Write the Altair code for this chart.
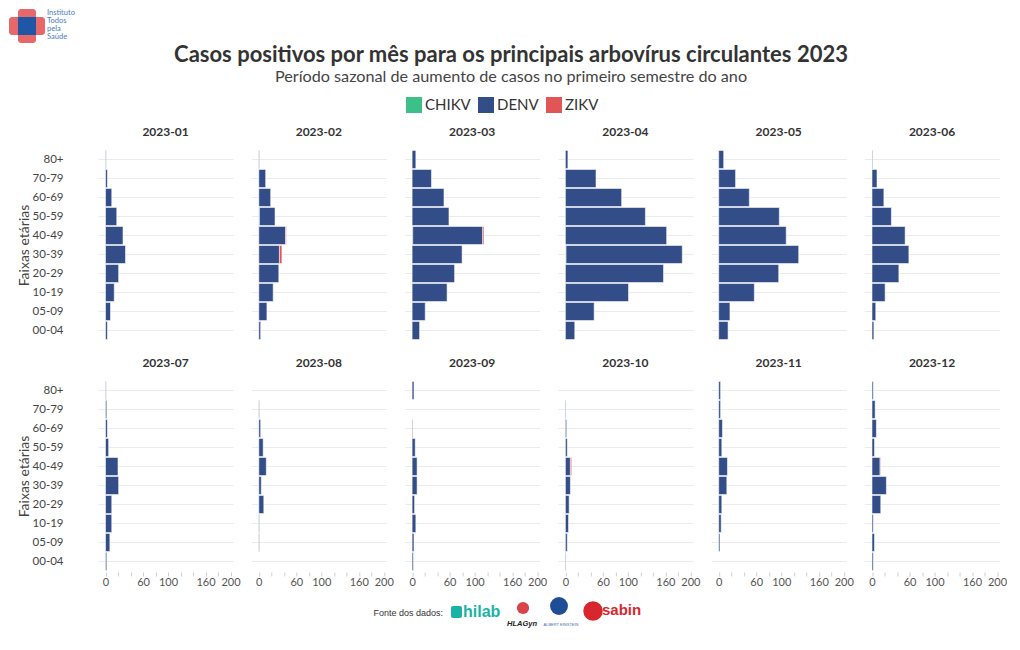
import altair as alt
import pandas as pd

# ---------------- data ----------------
months = ["2023-01", "2023-02", "2023-03", "2023-04", "2023-05", "2023-06",
          "2023-07", "2023-08", "2023-09", "2023-10", "2023-11", "2023-12"]
age_groups = ["00-04", "05-09", "10-19", "20-29", "30-39",
              "40-49", "50-59", "60-69", "70-79", "80+"]
viruses = ["CHIKV", "DENV", "ZIKV"]
virus_colors = ["#3DBF8A", "#324D88", "#E05555"]

# cases per month, per age group (00-04 ... 80+)
denv_cases = [
    [3, 8, 14, 21, 32, 28, 18, 10, 3, 1],          # 2023-01
    [3, 13, 23, 32, 33, 43, 25, 19, 11, 1],        # 2023-02
    [12, 21, 56, 68, 80, 112, 59, 51, 31, 6],      # 2023-03
    [15, 46, 101, 157, 186, 162, 128, 90, 49, 4],  # 2023-04
    [15, 18, 57, 96, 128, 108, 97, 49, 27, 8],     # 2023-05
    [3, 6, 21, 43, 59, 53, 31, 19, 8, 1],          # 2023-06
    [2, 7, 10, 10, 21, 20, 5, 3, 2, 1],            # 2023-07
    [0, 1, 1, 8, 4, 12, 7, 3, 1, 0],               # 2023-08
    [2, 3, 6, 4, 8, 8, 5, 1, 0, 3],                # 2023-09
    [1, 3, 5, 6, 8, 8, 3, 2, 1, 0],                # 2023-10
    [0, 2, 4, 5, 13, 14, 5, 6, 3, 3],              # 2023-11
    [2, 4, 2, 14, 23, 13, 4, 7, 5, 2],             # 2023-12
]
chikv_cases = [
    [0, 0, 0, 0, 0, 0, 0, 0, 0, 0],
    [0, 0, 0, 0, 0, 0, 1, 0, 0, 0],
    [0, 0, 0, 0, 0, 1, 0, 0, 0, 0],
    [0, 0, 0, 0, 1, 0, 0, 0, 0, 0],
    [0, 0, 0, 0, 0, 0, 0, 0, 0, 0],
    [0, 0, 0, 0, 0, 0, 0, 0, 0, 0],
    [0, 0, 0, 0, 0, 0, 0, 0, 0, 0],
    [0, 0, 0, 0, 0, 0, 0, 0, 0, 0],
    [0, 0, 0, 0, 0, 0, 0, 0, 0, 0],
    [0, 0, 0, 0, 0, 0, 0, 0, 0, 0],
    [0, 0, 0, 0, 0, 0, 0, 0, 0, 0],
    [0, 0, 0, 0, 0, 0, 0, 0, 0, 0],
]
zikv_cases = [
    [0, 0, 0, 0, 0, 0, 0, 0, 0, 0],
    [0, 0, 0, 0, 4, 1, 0, 0, 0, 0],
    [0, 0, 0, 0, 0, 2, 0, 0, 0, 0],
    [0, 0, 0, 0, 0, 0, 0, 0, 0, 0],
    [0, 0, 0, 0, 0, 0, 0, 0, 0, 0],
    [0, 0, 0, 0, 0, 0, 0, 0, 0, 0],
    [0, 0, 0, 0, 0, 0, 0, 0, 0, 0],
    [0, 0, 0, 0, 0, 0, 0, 0, 0, 0],
    [0, 0, 0, 0, 0, 0, 0, 0, 0, 0],
    [0, 0, 0, 0, 0, 2, 0, 0, 0, 0],
    [0, 0, 0, 0, 0, 0, 0, 0, 0, 0],
    [0, 0, 0, 0, 0, 1, 0, 0, 0, 0],
]
x_tick_values = [0, 20, 40, 60, 80, 100, 120, 140, 160, 180, 200]
x_tick_labels = [0, 60, 100, 160, 200]

title_text = "Casos positivos por mês para os principais arbovírus circulantes 2023"
subtitle_text = "Período sazonal de aumento de casos no primeiro semestre do ano"
y_title = "Faixas etárias"
logo_lines = ["Instituto", "Todos", "pela", "Saúde"]
source_text = "Fonte dos dados:"

FONT = "Lato"
OX = -89  # header/footer x origin sits at the first panel's left edge

# ---------------- long table ----------------
rows = []
series = {"CHIKV": chikv_cases, "DENV": denv_cases, "ZIKV": zikv_cases}
for mi, m in enumerate(months):
    for vi, v in enumerate(viruses):
        for ai, a in enumerate(age_groups):
            val = series[v][mi][ai]
            if val > 0:
                rows.append({"mes": m, "faixa": a, "virus": v, "casos": val, "ordem": vi})
df = pd.DataFrame(rows)

label_expr = "indexof([" + ",".join(str(t) for t in x_tick_labels) + "], datum.value) >= 0 ? datum.label : ''"

bars = alt.Chart(df).mark_bar(stroke="white", strokeWidth=1, strokeOpacity=0.55).encode(
    x=alt.X("casos:Q", stack="zero",
            scale=alt.Scale(domain=[-12, 204], nice=False),
            axis=alt.Axis(values=x_tick_values, labelExpr=label_expr, title=None,
                          grid=False, domain=False, tickColor="#d0d0d0", tickSize=4,
                          labelPadding=0, labelFontSize=11, labelColor="#555",
                          labelOverlap=False, labelFlush=False)),
    y=alt.Y("faixa:N", sort=list(reversed(age_groups)),
            scale=alt.Scale(paddingInner=0.05, paddingOuter=0.025),
            axis=alt.Axis(title=y_title, grid=True, gridColor="#ebebeb", domain=False,
                          ticks=False, labelPadding=34, bandPosition=0.5,
                          labelFontSize=11.5, labelColor="#444",
                          titleFontSize=14, titleFontWeight="normal", titleColor="#444",
                          titlePadding=1)),
    color=alt.Color("virus:N", scale=alt.Scale(domain=viruses, range=virus_colors),
                    legend=alt.Legend(orient="none", legendX=308, legendY=88,
                                      direction="horizontal", title=None,
                                      symbolType="square", symbolSize=256,
                                      symbolStrokeWidth=0, labelFontSize=15,
                                      labelColor="#333", labelOffset=3,
                                      columnPadding=7, padding=0)),
    order=alt.Order("ordem:Q"),
).properties(width=135, height=190)

facet_chart = bars.facet(
    facet=alt.Facet("mes:N", title=None, sort=months,
                    header=alt.Header(labelFontSize=12, labelFontWeight="bold",
                                      labelColor="#333", labelPadding=11)),
    columns=6,
    spacing={"row": 15, "column": 16.3},
)

# ---------------- header ----------------
one = pd.DataFrame({"k": [0]})
title_mark = alt.Chart(pd.DataFrame({"t": [title_text]})).mark_text(
    fontSize=22, fontWeight="bold", color="#333").encode(
    text="t:N", x=alt.value(OX + 502), y=alt.value(46))
subtitle_mark = alt.Chart(pd.DataFrame({"t": [subtitle_text]})).mark_text(
    fontSize=16.2, color="#444").encode(
    text="t:N", x=alt.value(OX + 502), y=alt.value(68))
cross_h = alt.Chart(one).mark_rect(color="#E8676A", cornerRadius=3).encode(
    x=alt.value(OX + 0), x2=alt.value(OX + 36), y=alt.value(8), y2=alt.value(26))
cross_v = alt.Chart(one).mark_rect(color="#E8676A", cornerRadius=3).encode(
    x=alt.value(OX + 9), x2=alt.value(OX + 27), y=alt.value(0), y2=alt.value(34))
cross_c = alt.Chart(one).mark_rect(color="#1F56A6").encode(
    x=alt.value(OX + 9), x2=alt.value(OX + 27), y=alt.value(8), y2=alt.value(26))
logo_text = alt.Chart(pd.DataFrame({"t": logo_lines, "i": [0, 1, 2, 3]})).mark_text(
    fontSize=7.5, color="#4A7CC0", align="left", baseline="middle").encode(
    text="t:N", x=alt.value(OX + 38),
    y=alt.Y("i:O", axis=None, scale=alt.Scale(range=[4, 28], padding=0)))
header = alt.layer(cross_h, cross_v, cross_c, logo_text, title_mark, subtitle_mark).properties(
    width=900, height=107)

# ---------------- footer ----------------
src = alt.Chart(pd.DataFrame({"t": [source_text]})).mark_text(
    font="Liberation Sans", fontSize=9, color="#333", align="right").encode(
    text="t:N", x=alt.value(OX + 434), y=alt.value(17))
hilab_icon = alt.Chart(one).mark_rect(color="#19B3A6", cornerRadius=2).encode(
    x=alt.value(OX + 442), x2=alt.value(OX + 453), y=alt.value(10), y2=alt.value(22))
hilab_txt = alt.Chart(pd.DataFrame({"t": ["hilab"]})).mark_text(
    font="Liberation Sans", fontSize=16, fontWeight="bold", color="#19B3A6", align="left").encode(
    text="t:N", x=alt.value(OX + 454), y=alt.value(16))
hla_icon = alt.Chart(one).mark_circle(color="#D9434B", size=150, opacity=1).encode(
    x=alt.value(OX + 514), y=alt.value(12))
hla_txt = alt.Chart(pd.DataFrame({"t": ["HLAGyn"]})).mark_text(
    font="Liberation Sans", fontSize=7.5, fontWeight="bold", fontStyle="italic", color="#222").encode(
    text="t:N", x=alt.value(OX + 513), y=alt.value(28))
ein_icon = alt.Chart(one).mark_circle(color="#1F4E96", size=320, opacity=1).encode(
    x=alt.value(OX + 550), y=alt.value(10))
ein_txt = alt.Chart(pd.DataFrame({"t": ["ALBERT EINSTEIN"]})).mark_text(
    font="Liberation Sans", fontSize=4, color="#4A6FA5").encode(
    text="t:N", x=alt.value(OX + 552), y=alt.value(29))
sabin_icon = alt.Chart(one).mark_circle(color="#D8262E", size=380, opacity=1).encode(
    x=alt.value(OX + 584), y=alt.value(15))
sabin_txt = alt.Chart(pd.DataFrame({"t": ["sabin"]})).mark_text(
    font="Liberation Sans", fontSize=15, fontWeight="bold", color="#D8262E", align="left").encode(
    text="t:N", x=alt.value(OX + 593), y=alt.value(14))
footer = alt.layer(src, hilab_icon, hilab_txt, hla_icon, hla_txt, ein_icon, ein_txt,
                   sabin_icon, sabin_txt).properties(width=900, height=34)

chart = alt.vconcat(header, facet_chart, footer, spacing=8).properties(
    padding={"left": 0, "top": 0, "right": 0, "bottom": 0}
).configure(font=FONT).configure_view(stroke="transparent")

chart.save("out.html", embed_options={"renderer": "svg", "actions": False})
